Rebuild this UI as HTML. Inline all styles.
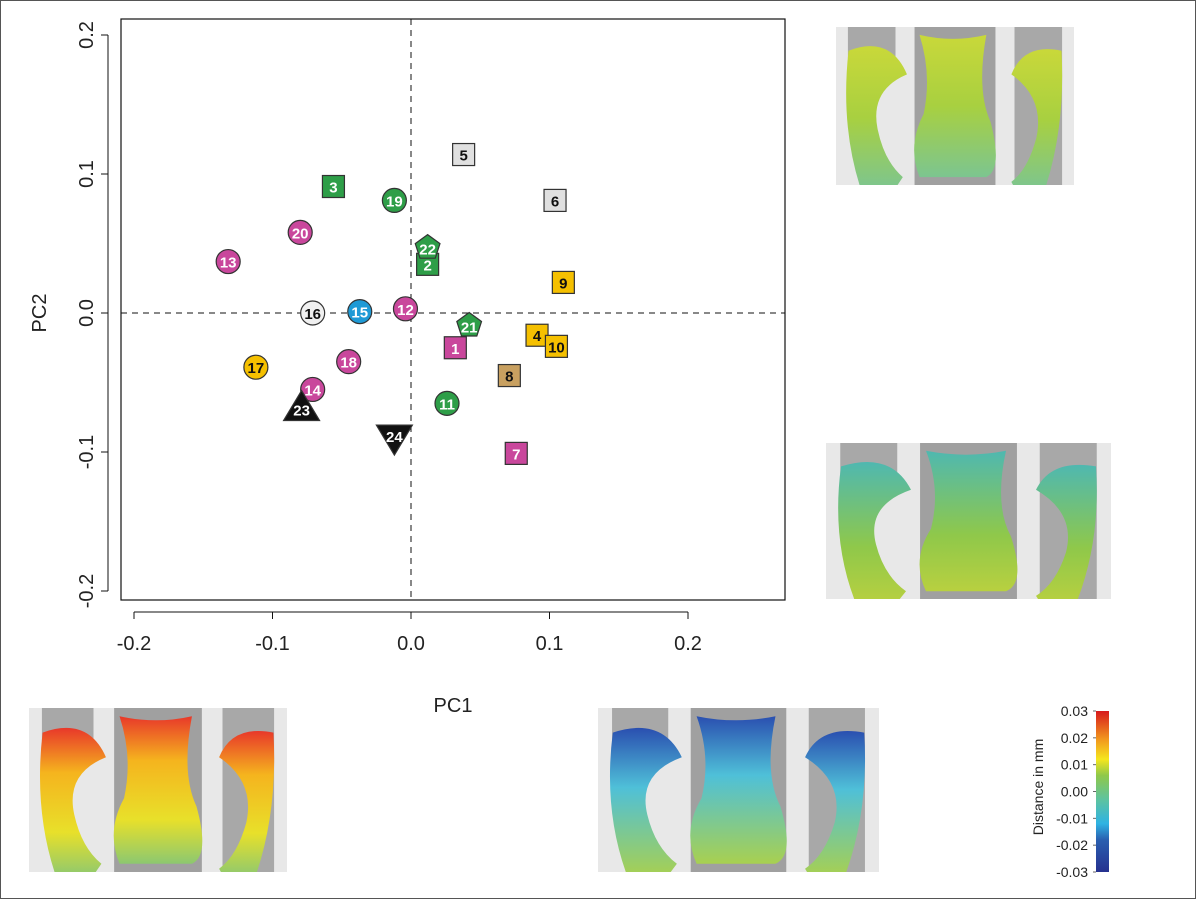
<!DOCTYPE html>
<html><head><meta charset="utf-8"><style>
html,body{margin:0;padding:0;background:#fff}
svg{display:block}
text{font-family:"Liberation Sans",Arial,sans-serif}
</style></head><body>
<svg id="chart" width="1197" height="901" viewBox="0 0 1197 901" xmlns="http://www.w3.org/2000/svg">
<defs>
<linearGradient id="cb" x1="0" y1="1" x2="0" y2="0">
<stop offset="0" stop-color="#26318f"/><stop offset="0.2" stop-color="#2a5fb0"/><stop offset="0.3" stop-color="#2fb3e3"/>
<stop offset="0.45" stop-color="#5ec3a0"/><stop offset="0.6" stop-color="#8fc84a"/><stop offset="0.7" stop-color="#f5e61e"/>
<stop offset="0.82" stop-color="#f29a1e"/><stop offset="1" stop-color="#d7191c"/></linearGradient>
<linearGradient id="yg" x1="0" y1="0" x2="0" y2="1"><stop offset="0" stop-color="#c9d83a"/><stop offset="0.5" stop-color="#a8d040"/><stop offset="1" stop-color="#7cc590"/></linearGradient>
<linearGradient id="gg" x1="0" y1="0" x2="0" y2="1"><stop offset="0" stop-color="#4fb8b0"/><stop offset="0.6" stop-color="#8fc84a"/><stop offset="1" stop-color="#b8d040"/></linearGradient>
<linearGradient id="rg" x1="0" y1="0" x2="0" y2="1"><stop offset="0" stop-color="#e8382a"/><stop offset="0.3" stop-color="#f5b41e"/><stop offset="0.7" stop-color="#e8e02a"/><stop offset="1" stop-color="#8cc870"/></linearGradient>
<linearGradient id="bg2" x1="0" y1="0" x2="0" y2="1"><stop offset="0" stop-color="#2a4fb0"/><stop offset="0.4" stop-color="#4fc0d8"/><stop offset="1" stop-color="#a8d050"/></linearGradient>
</defs>
<rect x="0.5" y="0.5" width="1195" height="898" fill="#fff" stroke="#555"/>
<g id="plot"></g>
<g id="bones"></g>
<g>
<rect x="1096" y="711" width="13" height="161" fill="url(#cb)"/>
<g id="cbticks" font-size="14" fill="#222" text-anchor="end"></g>
<text transform="translate(1043,787) rotate(-90)" font-size="14" text-anchor="middle" fill="#222">Distance in mm</text>
</g>
</svg>
<script>
const xTicks=[-0.2,-0.1,0.0,0.1,0.2];
const yTicks=[-0.2,-0.1,0.0,0.1,0.2];
const labels=["1","2","3","4","5","6","7","8","9","10","11","12","13","14","15","16","17","18","19","20","21","22","23","24"];
const pc1=[0.032,0.012,-0.056,0.091,0.038,0.104,0.076,0.071,0.110,0.105,0.026,-0.004,-0.132,-0.071,-0.037,-0.071,-0.112,-0.045,-0.012,-0.080,0.042,0.012,-0.079,-0.012];
const pc2=[-0.025,0.035,0.091,-0.016,0.114,0.081,-0.101,-0.045,0.022,-0.024,-0.065,0.003,0.037,-0.055,0.001,0.000,-0.039,-0.035,0.081,0.058,-0.009,0.047,-0.068,-0.090];
const shapes=["sq","sq","sq","sq","sq","sq","sq","sq","sq","sq","ci","ci","ci","ci","ci","ci","ci","ci","ci","ci","pent","pent","tri","tridown"];
const fills=["#c9479c","#2e9e48","#2e9e48","#f5c000","#e0e0e0","#e0e0e0","#c9479c","#c8a060","#f5c000","#f5c000","#2e9e48","#c9479c","#c9479c","#c9479c","#1e9ad6","#f0f0f0","#f5c000","#c9479c","#2e9e48","#c9479c","#2e9e48","#2e9e48","#111","#111"];
const cbTicks=["0.03","0.02","0.01","0.00","-0.01","-0.02","-0.03"];
const NS="http://www.w3.org/2000/svg";
const X=v=>411+v*1385, Y=v=>313-v*1390;
function mk(tag,a,parent){const e=document.createElementNS(NS,tag);for(const k in a)e.setAttribute(k,a[k]);parent.appendChild(e);return e;}
const P=document.getElementById('plot');
let box=mk('rect',{x:121,y:19,width:664,height:581,fill:'none',stroke:'#111','stroke-width':1.2},P);


let z1=mk('line',{x1:121,x2:785,y1:Y(0),y2:Y(0),stroke:'#111','stroke-dasharray':'6,5'},P);


let z2=mk('line',{x1:X(0),x2:X(0),y1:19,y2:600,stroke:'#111','stroke-dasharray':'6,5'},P);


mk('line',{x1:X(-0.2),x2:X(0.2),y1:612,y2:612,stroke:'#111'},P);
mk('line',{x1:108,x2:108,y1:Y(0.2),y2:Y(-0.2),stroke:'#111'},P);
xTicks.forEach(v=>{mk('line',{x1:X(v),x2:X(v),y1:612,y2:619,stroke:'#111'},P);
 let t=mk('text',{x:X(v),y:650,'font-size':20,'text-anchor':'middle',fill:'#222'},P);t.textContent=v.toFixed(1);
 
 });
yTicks.forEach(v=>{mk('line',{x1:101,x2:108,y1:Y(v),y2:Y(v),stroke:'#111'},P);
 let t=mk('text',{x:0,y:0,'font-size':20,'text-anchor':'middle',fill:'#222',transform:`translate(93,${Y(v)}) rotate(-90)`},P);t.textContent=v.toFixed(1);
 
 });
let xt=mk('text',{x:453,y:712,'font-size':20,'text-anchor':'middle',fill:'#222'},P);xt.textContent='PC1';


let yt=mk('text',{x:0,y:0,'font-size':20,'text-anchor':'middle',fill:'#222',transform:'translate(46,313) rotate(-90)'},P);yt.textContent='PC2';


labels.forEach((l,i)=>{
 const cx=X(pc1[i]),cy=Y(pc2[i]);const g=mk('g',{},P);
 
 
 const st={fill:fills[i],stroke:'#333','stroke-width':1.2};let ty=cy+6;
 if(shapes[i]=='sq')mk('rect',Object.assign({x:cx-11,y:cy-11,width:22,height:22},st),g);
 else if(shapes[i]=='ci')mk('circle',Object.assign({cx:cx,cy:cy,r:12},st),g);
 else if(shapes[i]=='pent'){let p=[];for(let k=0;k<5;k++){const a=-Math.PI/2+k*2*Math.PI/5;p.push((cx+13*Math.cos(a))+','+(cy+13*Math.sin(a)));}mk('polygon',Object.assign({points:p.join(' ')},st),g);ty=cy+7;}
 else if(shapes[i]=='tri'){mk('polygon',Object.assign({points:`${cx},${cy-17} ${cx-18},${cy+13} ${cx+18},${cy+13}`},st),g);ty=cy+8;}
 else {mk('polygon',Object.assign({points:`${cx},${cy+17} ${cx-18},${cy-13} ${cx+18},${cy-13}`},st),g);ty=cy+4;}
 const dark=['#f5c000','#e0e0e0','#c8a060','#f0f0f0'].includes(fills[i]);
 const t=mk('text',{x:cx,y:ty,'font-size':15,'font-weight':'bold','text-anchor':'middle',fill:dark?'#111':'#fff'},g);t.textContent=l;
});
const C=document.getElementById('cbticks');
cbTicks.forEach((l,i)=>{const y=711+i*161/6;
 mk('line',{x1:1093,x2:1096,y1:y,y2:y,stroke:'#666'},C);
 const t=mk('text',{x:1088,y:y+5},C);t.textContent=l;});
// bone renderings (approximate)
const B=document.getElementById('bones');
const defs=document.querySelector('defs');
let cid=0;
function bone(x,y,w,h,fill,name){
 const id='clip'+(cid++);
 const cp=mk('clipPath',{id:id},defs);
 mk('rect',{x:x,y:y,width:w,height:h},cp);
 const g=mk('g',{'clip-path':`url(#${id})`},B);
 
 
 mk('rect',{x:x,y:y,width:w,height:h,fill:'#e8e8e8'},g);
 const s=w/285;
 // grey bone background pieces
 mk('rect',{x:x+w*0.05,y:y,width:w*0.2,height:h*0.2,fill:'#a8a8a8'},g);
 mk('rect',{x:x+w*0.33,y:y,width:w*0.34,height:h,fill:'#a0a0a0'},g);
 mk('rect',{x:x+w*0.75,y:y,width:w*0.2,height:h,fill:'#a8a8a8'},g);
 // left C-shape
 mk('path',{d:`M${x+15*s} ${y+h*0.15} q${50*s} ${-h*0.1} ${70*s} ${h*0.15} q${-45*s} ${h*0.1} ${-35*s} ${h*0.35} q${8*s} ${h*0.2} ${30*s} ${h*0.3} l${-10*s} ${h*0.08} h${-40*s} q${-25*s} ${-h*0.4} ${-15*s} ${-h*0.88}z`,fill:fill},g);
 // middle
 mk('path',{d:`M${x+100*s} ${y+h*0.05} q${40*s} ${h*0.05} ${80*s} 0 q${-12*s} ${h*0.35} ${5*s} ${h*0.55} q${15*s} ${h*0.3} ${-5*s} ${h*0.35} h${-80*s} q${-15*s} ${-h*0.2} ${5*s} ${-h*0.4} q${10*s} ${-h*0.25} ${-5*s} ${-h*0.5}z`,fill:fill},g);
 // right C-shape
 mk('path',{d:`M${x+w-15*s} ${y+h*0.15} q${-45*s} ${-h*0.05} ${-60*s} ${h*0.15} q${40*s} ${h*0.15} ${30*s} ${h*0.4} q${-10*s} ${h*0.2} ${-30*s} ${h*0.28} l${5*s} ${h*0.05} h${35*s} q${25*s} ${-h*0.4} ${20*s} ${-h*0.88}z`,fill:fill},g);
}
bone(836,27,238,158,'url(#yg)','bone-pc2-max');
bone(826,443,285,156,'url(#gg)','bone-pc2-min');
bone(29,708,258,164,'url(#rg)','bone-pc1-min');
bone(598,708,281,164,'url(#bg2)','bone-pc1-max');
</script>
</body></html>
